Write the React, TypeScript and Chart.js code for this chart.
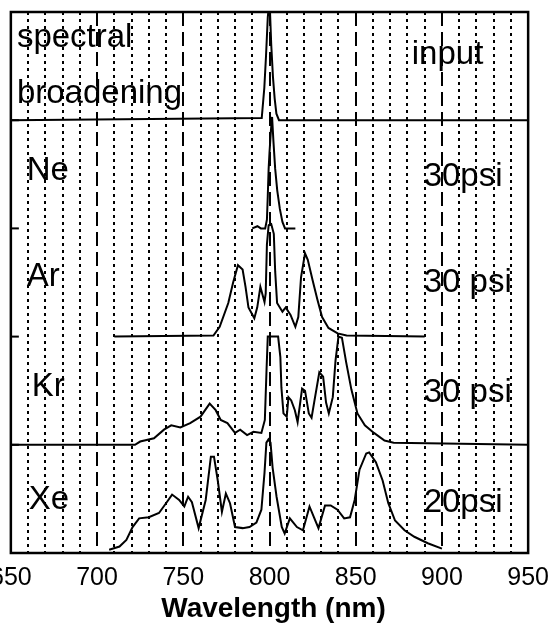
import React, { useEffect, useRef } from "react";
import { Chart, registerables } from "chart.js";

Chart.register(...registerables);

// ---- axis / tick data ----
const xMin = 650;
const xMax = 950;
const tickLabels = [650, 700, 750, 800, 850, 900, 950];
const majorGrid = [700, 750, 800, 850, 900];
const innerYTicks = [1, 2, 3, 4];
const xTitle = "Wavelength (nm)";

// ---- series (wavelength nm, offset intensity) ----
const inputNm = [650, 795.5, 797, 798, 799, 799.6, 800.3, 801, 802, 803, 804, 805.5, 950];
const inputVal = [4, 4.02, 4.3, 4.6, 4.95, 5.05, 5.0, 4.7, 4.4, 4.2, 4.06, 4.0, 4];

const neNm = [790, 793, 795, 797.5, 798.5, 799, 799.5, 800, 800.8, 801.5, 802.3, 803.3, 804.5, 806, 807.5, 809, 815];
const neVal = [3.0, 3.02, 3.0, 3.0, 3.08, 3.3, 3.55, 3.7, 3.9, 4.03, 3.8, 3.55, 3.35, 3.18, 3.06, 3.0, 3.0];

const arNm = [710, 767.5, 771.1, 776.1, 778.9, 781.7, 784.4, 786.1, 787.8, 791.2, 792.9, 794.7, 797.1, 797.8, 798.5, 799.5, 801, 802.5, 803.3, 804.4, 807.5, 809.4, 812.2, 815, 816.7, 818.3, 820.6, 822.2, 825, 827.8, 830.5, 834.2, 839.5, 844.7, 890];
const arVal = [2, 2.01, 2.09, 2.31, 2.5, 2.66, 2.62, 2.46, 2.27, 2.17, 2.27, 2.46, 2.32, 2.4, 2.85, 3.03, 3.04, 2.95, 2.6, 2.31, 2.23, 2.27, 2.2, 2.09, 2.18, 2.55, 2.77, 2.71, 2.52, 2.34, 2.18, 2.08, 2.03, 2.01, 2.0];

const krNm = [650, 722, 725, 733, 738.8, 743, 748.3, 754, 760, 765.3, 768.8, 771.7, 775.6, 780, 783, 787, 790.7, 795.3, 797.3, 798.3, 799, 805, 806.3, 806.9, 808.1, 810, 811, 812.6, 814.7, 816.3, 818.9, 820.6, 822.8, 824.4, 826.1, 828.9, 831.1, 832.8, 834.4, 836.7, 838.3, 840, 842, 844.5, 847.5, 851, 855.3, 860.6, 866.7, 872, 950];
const krVal = [1, 1, 1.03, 1.06, 1.14, 1.18, 1.16, 1.2, 1.26, 1.38, 1.32, 1.23, 1.2, 1.11, 1.14, 1.09, 1.12, 1.11, 1.23, 1.7, 2.0, 2.0, 1.81, 1.53, 1.29, 1.26, 1.44, 1.41, 1.32, 1.21, 1.52, 1.5, 1.29, 1.25, 1.41, 1.67, 1.63, 1.39, 1.29, 1.44, 1.78, 2.0, 1.99, 1.76, 1.51, 1.29, 1.18, 1.11, 1.04, 1.02, 1];

const xeNm = [707, 713, 717, 720.6, 724.4, 730, 735.9, 740, 743.5, 747.6, 750.6, 752.8, 755, 758.9, 763, 766, 767.8, 770, 772.4, 774.7, 777.1, 780, 784.4, 788.4, 792.4, 795.3, 797.1, 798.2, 799.4, 800.6, 801.8, 804.1, 807.1, 808.8, 811.8, 815.9, 819.4, 823.2, 825.8, 828.4, 832.2, 835.5, 839.4, 843.3, 846.7, 849.4, 852.2, 856.1, 857.8, 861.7, 865.6, 868.9, 872.8, 878.3, 884, 891.8, 900];
const xeVal = [0.03, 0.06, 0.12, 0.24, 0.32, 0.33, 0.37, 0.46, 0.54, 0.49, 0.43, 0.52, 0.47, 0.23, 0.49, 0.89, 0.89, 0.67, 0.38, 0.55, 0.46, 0.24, 0.23, 0.24, 0.28, 0.4, 0.74, 1.02, 1.05, 1.02, 0.79, 0.52, 0.24, 0.18, 0.32, 0.24, 0.21, 0.43, 0.33, 0.23, 0.44, 0.44, 0.4, 0.32, 0.33, 0.49, 0.77, 0.92, 0.93, 0.84, 0.67, 0.46, 0.3, 0.21, 0.15, 0.09, 0.04];

// ---- in-plot text labels (text, wavelength, offset value) ----
const labelTexts = ["spectral", "broadening", "input", "Ne", "30psi", "Ar", "30 psi", "Kr", "30 psi", "Xe", "20psi"];
const labelNm = [653.5, 653.5, 882.5, 659.2, 889.4, 659.2, 889.4, 662.1, 889.4, 660.4, 889.4];
const labelVal = [4.677, 4.159, 4.519, 3.447, 3.392, 2.468, 2.412, 1.451, 1.396, 0.407, 0.379];

const FONT = '"Liberation Sans", Arial, Helvetica, sans-serif';
const SHIFT = 20; // canvas starts this far left of the page so the "650" label is cut like the original

const toPoints = (xs: number[], ys: number[]) => xs.map((x, i) => ({ x, y: ys[i] }));

const overlayPlugin = {
  id: "overlay",
  beforeDatasetsDraw(chart: any) {
    const { ctx, chartArea, scales } = chart;
    ctx.save();
    ctx.strokeStyle = "#000";
    ctx.lineWidth = 2;
    ctx.setLineDash([14, 6]);
    majorGrid.forEach((v) => {
      const px = Math.round(scales.x.getPixelForValue(v));
      ctx.beginPath();
      ctx.moveTo(px, chartArea.top);
      ctx.lineTo(px, chartArea.bottom);
      ctx.stroke();
    });
    ctx.restore();
  },
  afterDraw(chart: any) {
    const { ctx, chartArea, scales } = chart;
    ctx.save();
    ctx.strokeStyle = "#000";
    ctx.lineWidth = 2.5;
    ctx.setLineDash([]);
    ctx.strokeRect(chartArea.left, chartArea.top, chartArea.right - chartArea.left, chartArea.bottom - chartArea.top);
    ctx.lineWidth = 2;
    innerYTicks.forEach((v) => {
      const py = scales.y.getPixelForValue(v);
      ctx.beginPath();
      ctx.moveTo(chartArea.left, py);
      ctx.lineTo(chartArea.left + 8, py);
      ctx.stroke();
    });
    ctx.fillStyle = "#000";
    ctx.font = `33px ${FONT}`;
    ctx.textAlign = "left";
    ctx.textBaseline = "alphabetic";
    labelTexts.forEach((t, i) => {
      ctx.fillText(t, scales.x.getPixelForValue(labelNm[i]), scales.y.getPixelForValue(labelVal[i]));
    });
    // axis title
    ctx.font = `bold 28px ${FONT}`;
    ctx.textAlign = "center";
    ctx.textBaseline = "middle";
    ctx.fillText(xTitle, (chartArea.left + chartArea.right) / 2 + 4, chartArea.bottom + 56);
    ctx.restore();
  },
};

export default function App() {
  const ref = useRef<HTMLCanvasElement | null>(null);

  useEffect(() => {
    if (!ref.current) return;
    const mk = (xs: number[], ys: number[]) => ({
      data: toPoints(xs, ys),
      borderColor: "#000",
      borderWidth: 2,
      pointRadius: 0,
      tension: 0,
      fill: false,
    });
    const chart = new Chart(ref.current, {
      type: "line",
      data: {
        datasets: [
          mk(inputNm, inputVal),
          mk(neNm, neVal),
          mk(arNm, arVal),
          mk(krNm, krVal),
          mk(xeNm, xeVal),
        ],
      },
      options: {
        animation: false,
        responsive: false,
        maintainAspectRatio: false,
        parsing: false,
        layout: { autoPadding: false, padding: { left: 11, right: 28, top: 12, bottom: 30 } },
        plugins: { legend: { display: false }, tooltip: { enabled: false } },
        scales: {
          x: {
            type: "linear",
            min: xMin,
            max: xMax,
            ticks: {
              stepSize: 10,
              autoSkip: false,
              maxRotation: 0,
              padding: 10,
              color: "#000",
              font: { family: FONT, size: 25 },
              callback: (v: any) => (tickLabels.includes(Number(v)) ? String(v) : ""),
            },
            grid: {
              color: (c: any) =>
                c.tick && majorGrid.includes(c.tick.value) ? "rgba(0,0,0,0)" : "#000",
              lineWidth: 2,
              drawTicks: false,
            },
            border: { display: false, dash: [3, 4] },
            title: { display: false },
          },
          y: { type: "linear", min: 0, max: 5, display: false },
        },
      },
      plugins: [overlayPlugin],
    } as any);
    return () => chart.destroy();
  }, []);

  return (
    <div style={{ position: "absolute", left: 0, top: 0, width: 559, height: 633, background: "#fff", overflow: "hidden" }}>
      <canvas
        ref={ref}
        width={559 + SHIFT}
        height={633}
        style={{ position: "absolute", left: -SHIFT, top: 0, width: 559 + SHIFT, height: 633, display: "block" }}
      />
    </div>
  );
}
